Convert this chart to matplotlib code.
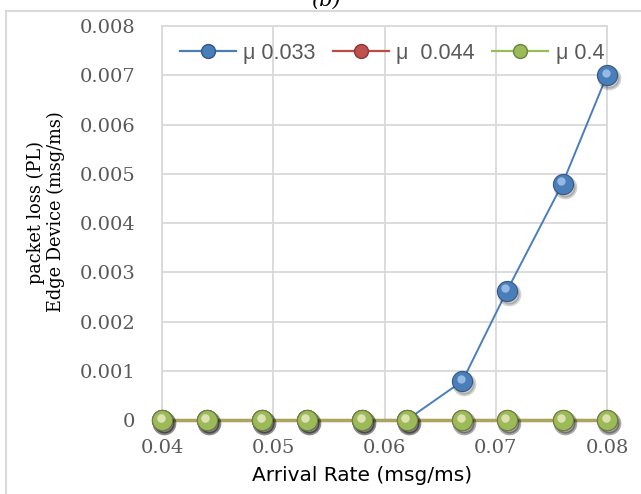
import numpy as np
import matplotlib
matplotlib.use("Agg")
import matplotlib.pyplot as plt
import matplotlib.patheffects as pe
import matplotlib.transforms as mtransforms
from matplotlib.lines import Line2D
from matplotlib.patches import Rectangle

# --- données ---
arrival_rate = [0.04, 0.044, 0.049, 0.053, 0.058, 0.062, 0.067, 0.071, 0.076, 0.08]
pl_mu_0033 = [0, 0, 0, 0, 0, 0, 0.00079, 0.00262, 0.00480, 0.00700]
pl_mu_0044 = [0, 0, 0, 0, 0, 0, 0, 0, 0, 0]
pl_mu_04 = [0, 0, 0, 0, 0, 0, 0, 0, 0, 0]
series_labels = ["\u03bc 0.033", "\u03bc  0.044", "\u03bc 0.4"]
x_ticks = [0.04, 0.05, 0.06, 0.07, 0.08]
y_ticks = [0, 0.001, 0.002, 0.003, 0.004, 0.005, 0.006, 0.007, 0.008]

couleurs = ["#4a7ebb", "#c0504d", "#9bbb59"]
couleurs_ligne = ["#4a7ebb", "#be4b48", "#a8a85a"]
couleurs_legende = ["#4a7ebb", "#be4b48", "#9bbb59"]
reflets = ["#a9c8ee", "#f0aaa8", "#dcefb0"]
largeurs = [1.4, 2.4, 2.2]


def assombrir(c, f=0.7):
    return matplotlib.colors.to_hex(np.array(matplotlib.colors.to_rgb(c)) * f)


fig = plt.figure(figsize=(6.41, 4.94), dpi=100)
ax = fig.add_axes([162 / 641, 1 - 420 / 494, 445 / 641, 394 / 494])

off_sh = mtransforms.ScaledTranslation(2 / 100, -3 / 100, fig.dpi_scale_trans)
off_hl = mtransforms.ScaledTranslation(-1.5 / 100, 2.5 / 100, fig.dpi_scale_trans)

for serie, c, cl, hl, lw in zip([pl_mu_0033, pl_mu_0044, pl_mu_04], couleurs, couleurs_ligne, reflets, largeurs):
    ax.plot(arrival_rate, serie, color=cl, lw=lw, zorder=3, clip_on=False)
    # marqueurs "sphère" : ombre douce, corps, reflet
    ax.plot(arrival_rate, serie, ls="none", marker="o", ms=14.5, color="black", alpha=0.18,
            mec="black", mew=2.5, transform=ax.transData + off_sh, zorder=4, clip_on=False)
    ax.plot(arrival_rate, serie, ls="none", marker="o", ms=14.5, color=c,
            mec=assombrir(c), mew=0.8, zorder=5, clip_on=False)
    ax.plot(arrival_rate, serie, ls="none", marker="o", ms=6, color=hl, alpha=0.8,
            mec="none", transform=ax.transData + off_hl, zorder=6, clip_on=False)

ax.set_xlim(0.04, 0.08)
ax.set_ylim(0, 0.008)
ax.set_xticks(x_ticks)
ax.set_yticks(y_ticks)
ax.set_xticklabels([f"{v:g}" for v in x_ticks])
ax.set_yticklabels(["0"] + [f"{v:.3f}" for v in y_ticks[1:]])
ax.tick_params(length=0, labelsize=14, labelcolor="#595959")
ax.tick_params(axis="y", pad=19)
ax.tick_params(axis="x", pad=14)
for lab in ax.get_xticklabels() + ax.get_yticklabels():
    lab.set_family("DejaVu Serif")
ax.grid(True, color="#d9d9d9", lw=1.3)
ax.set_axisbelow(True)
for s in ax.spines.values():
    s.set_color("#d9d9d9")
    s.set_linewidth(1.3)

ax.set_xlabel("Arrival Rate (msg/ms)", fontsize=14.5, family="DejaVu Sans", color="black")
ax.xaxis.set_label_coords((362 - 162) / 445, (420 - 475) / 394)
ax.xaxis.label.set_va("center")
fig.text(46 / 641, 1 - 212 / 494, "packet loss (PL)\nEdge Device (msg/ms)", rotation=90,
         ha="center", va="center", fontsize=12.8, family="DejaVu Serif", linespacing=1.15)

# légende
poignees = [Line2D([], [], color=cl, lw=1.6, marker="o", ms=10, mfc=c, mec=assombrir(c))
            for c, cl in zip(couleurs, couleurs_legende)]
leg = fig.legend(poignees, series_labels, loc="center", bbox_to_anchor=(392 / 641, 1 - 53 / 494),
                 ncol=3, frameon=False, handlelength=2.6, handletextpad=0.35, columnspacing=0.8,
                 prop={"family": "Liberation Sans", "size": 15.5})
for t in leg.get_texts():
    t.set_color("#595959")

# cadre extérieur et titre coupé
fig.patches.append(Rectangle((6 / 641, -0.05), 1.2, 1 - 11 / 494 + 0.05, transform=fig.transFigure,
                             fill=False, ec="#d9d9d9", lw=1.5))
fig.text(326 / 641, 1.0, "(b)", ha="center", va="center", fontsize=15, style="italic",
         family="DejaVu Serif")

fig.savefig("out.png", dpi=100)
